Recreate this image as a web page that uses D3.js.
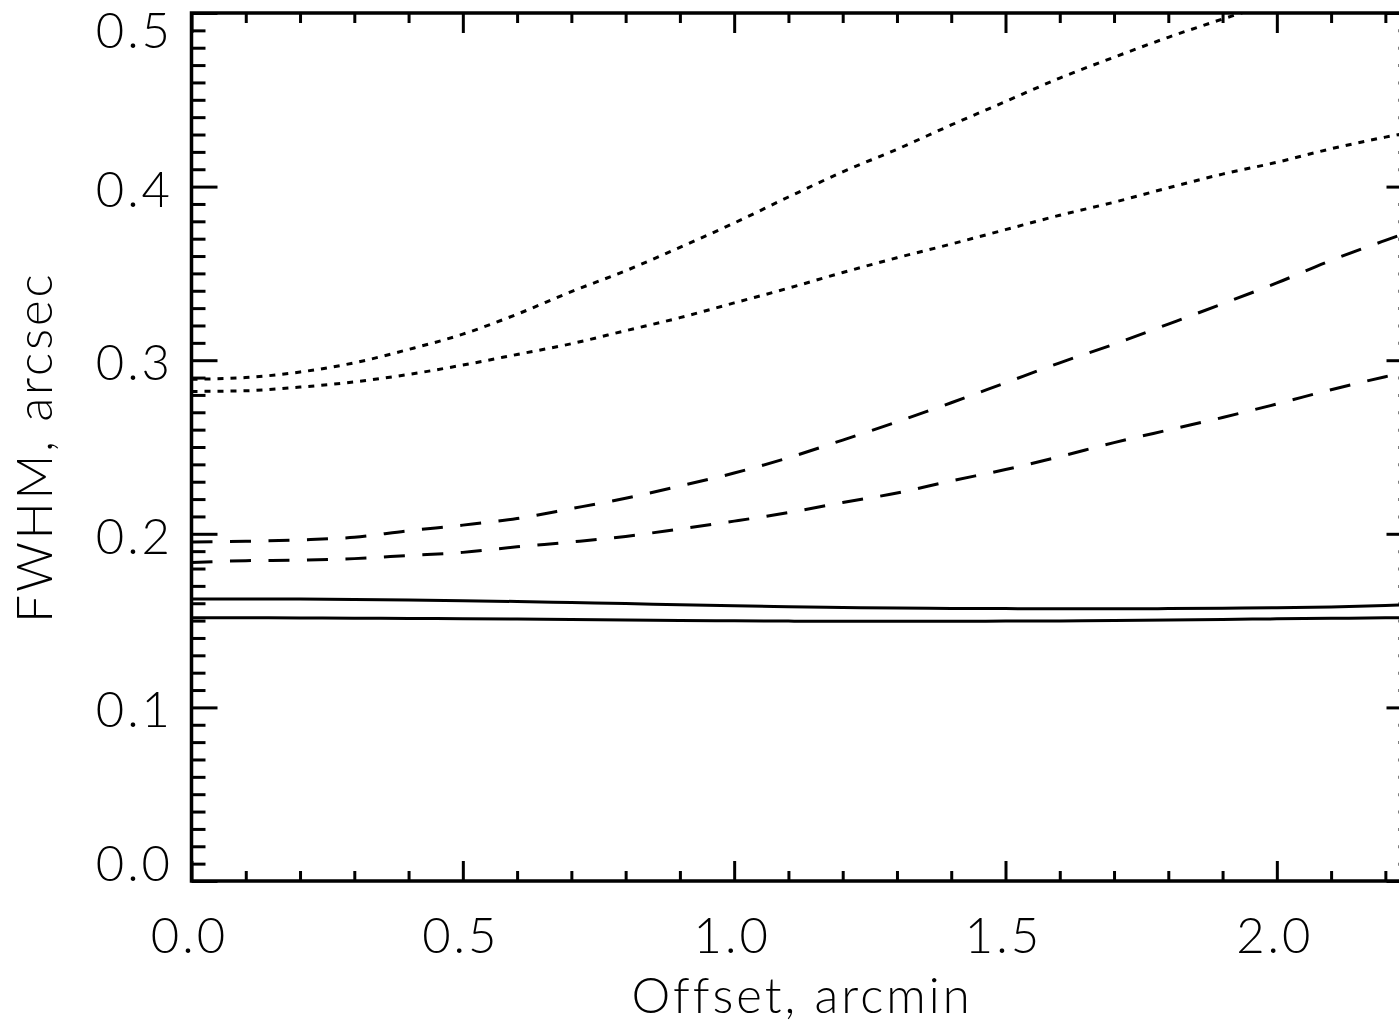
<!DOCTYPE html>
<html>
<head>
<meta charset="utf-8">
<script src="https://cdn.jsdelivr.net/npm/d3@7"></script>
<style>
  html, body { margin: 0; padding: 0; background: #fff; }
  svg { display: block; }
  text { font-family: Lato, "DejaVu Sans", sans-serif; font-weight: 300; fill: #000; }
</style>
</head>
<body>
<script>
// Offset from field centre (arcmin) at which each FWHM was computed
const offset = [0, 0.1, 0.2, 0.3, 0.4, 0.5, 0.6, 0.7, 0.8, 0.9, 1.0, 1.1, 1.2,
                1.3, 1.4, 1.5, 1.6, 1.7, 1.8, 1.9, 2.0, 2.1, 2.2, 2.25];

// FWHM (arcsec), two curves per line style
const solidUpper  = [0.1625, 0.1625, 0.1624, 0.1622, 0.1619, 0.1615, 0.1610, 0.1604, 0.1598, 0.1591, 0.1585, 0.1580,
                     0.1576, 0.1572, 0.1570, 0.1569, 0.1568, 0.1568, 0.1569, 0.1571, 0.1574, 0.1579, 0.1587, 0.1592];
const solidLower  = [0.1516, 0.1516, 0.1515, 0.1514, 0.1512, 0.1511, 0.1509, 0.1506, 0.1504, 0.1501, 0.1499, 0.1497,
                     0.1496, 0.1496, 0.1496, 0.1497, 0.1498, 0.1500, 0.1503, 0.1507, 0.1510, 0.1513, 0.1516, 0.1518];
const dashedUpper = [0.1953, 0.1957, 0.1965, 0.1980, 0.2018, 0.2050, 0.2088, 0.2145, 0.2205, 0.2275, 0.2350, 0.2438,
                     0.2540, 0.2645, 0.2755, 0.2870, 0.2985, 0.3092, 0.3208, 0.3325, 0.3445, 0.3575, 0.3690, 0.3745];
const dashedLower = [0.1835, 0.1845, 0.1848, 0.1857, 0.1875, 0.1893, 0.1925, 0.1953, 0.1985, 0.2028, 0.2073, 0.2122,
                     0.2180, 0.2235, 0.2305, 0.2370, 0.2445, 0.2525, 0.2598, 0.2670, 0.2748, 0.2830, 0.2905, 0.2940];
const dottedUpper = [0.2890, 0.2900, 0.2932, 0.2985, 0.3062, 0.3150, 0.3265, 0.3395, 0.3515, 0.3650, 0.3790, 0.3940,
                     0.4085, 0.4215, 0.4355, 0.4490, 0.4625, 0.4745, 0.4860, 0.4965, 0.5065, null, null, null];
const dottedLower = [0.2820, 0.2824, 0.2845, 0.2875, 0.2918, 0.2972, 0.3033, 0.3095, 0.3170, 0.3245, 0.3330, 0.3415,
                     0.3505, 0.3590, 0.3669, 0.3752, 0.3835, 0.3910, 0.3993, 0.4072, 0.4140, 0.4218, 0.4285, 0.4315];

// Axis ticks and labels
const xMajor = [0, 0.5, 1.0, 1.5, 2.0];
const xMinor = [0.1, 0.2, 0.3, 0.4, 0.6, 0.7, 0.8, 0.9, 1.1, 1.2, 1.3, 1.4, 1.6, 1.7, 1.8, 1.9, 2.1, 2.2];
const yMajor = [0, 0.1, 0.2, 0.3, 0.4, 0.5];
const yMinor = d3.range(1, 50).filter(i => i % 10 !== 0).map(i => i / 100);
const xTickLabels = ["0.0", "0.5", "1.0", "1.5", "2.0"];
const yTickLabels = ["0.0", "0.1", "0.2", "0.3", "0.4", "0.5"];
const xTitle = "Offset, arcmin";
const yTitle = "FWHM, arcsec";

const W = 1399, H = 1026;
const svg = d3.select("body").append("svg").attr("width", W).attr("height", H);
svg.append("rect").attr("width", W).attr("height", H).attr("fill", "#fff");

const x = d3.scaleLinear().domain([0, 2.25]).range([191.5, 1412.5]);
const y = d3.scaleLinear().domain([0, 0.5]).range([881, 13]);

// Clip curves to the plotting box
svg.append("clipPath").attr("id", "plotClip")
  .append("rect")
  .attr("x", x(0)).attr("y", y(0.5))
  .attr("width", x(2.25) - x(0)).attr("height", y(0) - y(0.5));

const series = [
  { values: solidUpper,  dash: null },
  { values: solidLower,  dash: null },
  { values: dashedUpper, dash: "21 17.5" },
  { values: dashedLower, dash: "21 17.5" },
  { values: dottedUpper, dash: "6 7" },
  { values: dottedLower, dash: "6 7" }
];

const line = d3.line()
  .defined(d => d[1] != null)
  .x(d => x(d[0]))
  .y(d => y(d[1]))
  .curve(d3.curveMonotoneX);

const curves = svg.append("g").attr("clip-path", "url(#plotClip)");
series.forEach(s => {
  curves.append("path")
    .datum(offset.map((o, i) => [o, s.values[i]]))
    .attr("d", line)
    .attr("fill", "none")
    .attr("stroke", "#000")
    .attr("stroke-width", 3)
    .attr("stroke-dasharray", s.dash);
});

// Inward-pointing ticks on all four sides
function drawTicks(axisGen, transform) {
  const g = svg.append("g").attr("transform", transform).call(axisGen);
  g.select(".domain").remove();
  g.selectAll(".tick line").attr("stroke", "#000").attr("stroke-width", 3);
  g.selectAll(".tick text").remove();
}
const noLabel = () => "";
drawTicks(d3.axisBottom(x).tickValues(xMajor).tickSize(-20).tickSizeOuter(0).tickFormat(noLabel), `translate(0,${y(0)})`);
drawTicks(d3.axisBottom(x).tickValues(xMinor).tickSize(-10).tickSizeOuter(0).tickFormat(noLabel), `translate(0,${y(0)})`);
drawTicks(d3.axisTop(x).tickValues(xMajor).tickSize(-20).tickSizeOuter(0).tickFormat(noLabel), `translate(0,${y(0.5)})`);
drawTicks(d3.axisTop(x).tickValues(xMinor).tickSize(-10).tickSizeOuter(0).tickFormat(noLabel), `translate(0,${y(0.5)})`);
drawTicks(d3.axisLeft(y).tickValues(yMajor).tickSize(-26).tickSizeOuter(0).tickFormat(noLabel), `translate(${x(0)},0)`);
drawTicks(d3.axisLeft(y).tickValues(yMinor).tickSize(-14).tickSizeOuter(0).tickFormat(noLabel), `translate(${x(0)},0)`);
drawTicks(d3.axisRight(y).tickValues(yMajor).tickSize(-26).tickSizeOuter(0).tickFormat(noLabel), `translate(${x(2.25)},0)`);
drawTicks(d3.axisRight(y).tickValues(yMinor).tickSize(-14).tickSizeOuter(0).tickFormat(noLabel), `translate(${x(2.25)},0)`);

// Plot frame
svg.append("rect")
  .attr("x", x(0)).attr("y", y(0.5))
  .attr("width", x(2.25) - x(0)).attr("height", y(0) - y(0.5))
  .attr("fill", "none").attr("stroke", "#000").attr("stroke-width", 3.5);

// Tick labels
const fontSize = 49;
svg.append("g").selectAll("text").data(xMajor).join("text")
  .attr("x", d => x(d) - 2)
  .attr("y", 953)
  .attr("text-anchor", "middle")
  .attr("font-size", fontSize)
  .attr("letter-spacing", 3)
  .text((d, i) => xTickLabels[i]);

svg.append("g").selectAll("text").data(yMajor).join("text")
  .attr("x", 173)
  .attr("y", d => Math.min(y(0), Math.max(y(0.5) + 35, y(d) + 20)))
  .attr("text-anchor", "end")
  .attr("font-size", fontSize)
  .attr("letter-spacing", 3)
  .text((d, i) => yTickLabels[i]);

// Axis titles
svg.append("text")
  .attr("x", (x(0) + x(2.25)) / 2)
  .attr("y", 1013)
  .attr("text-anchor", "middle")
  .attr("font-size", fontSize)
  .attr("letter-spacing", 3)
  .text(xTitle);

svg.append("text")
  .attr("transform", `translate(52,${(y(0) + y(0.5)) / 2}) rotate(-90)`)
  .attr("text-anchor", "middle")
  .attr("font-size", fontSize)
  .attr("letter-spacing", 3)
  .text(yTitle);
</script>
</body>
</html>
